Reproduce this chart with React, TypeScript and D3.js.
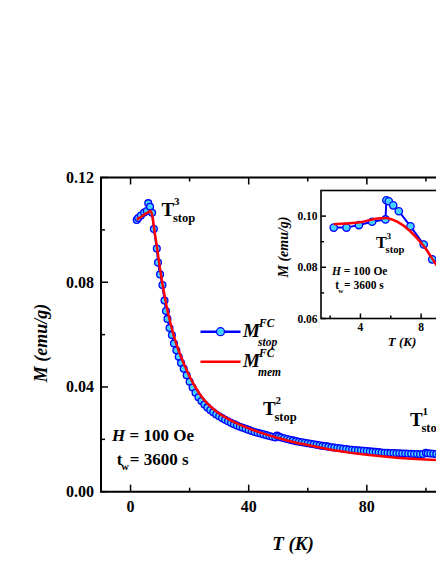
import React, { useEffect, useRef } from "react";
import * as d3 from "d3";

// main panel, stop-and-wait FC curve (blue circles)
const stopT = [2.1, 2.6, 3.5, 4.6, 5.5, 6.0, 6.6, 7.3, 7.9, 8.9, 9.3, 10.0, 10.8, 11.5, 12.0, 12.5, 13.2, 14.0, 14.7, 15.5, 16.3, 17.1, 18, 19, 20, 21, 22, 23, 24, 25, 26, 27, 28, 29, 30, 31, 32, 33, 34, 35, 36, 37, 38, 39, 40, 41, 42, 43, 44, 45, 46, 47, 48, 49, 49.6, 50.2, 51, 52, 53, 54, 55, 56, 57, 58, 59, 60, 61, 62, 63, 64, 65, 66, 67, 68, 69, 70, 71, 72, 73, 74, 75, 76, 77, 78, 79, 80, 81, 82, 83, 84, 85, 86, 87, 88, 89, 90, 91, 92, 93, 94, 95, 96, 97, 98, 99, 100, 100.6, 101.5, 102.5, 103.5, 104.5, 105.5, 106.5, 107.5, 108.5];
const stopM = [0.1038, 0.1045, 0.1055, 0.1066, 0.1072, 0.1102, 0.1088, 0.1065, 0.1003, 0.0929, 0.0875, 0.0830, 0.0789, 0.0730, 0.0690, 0.0660, 0.0625, 0.0598, 0.0566, 0.0540, 0.0515, 0.0492, 0.0470, 0.0445, 0.0420, 0.0398, 0.0378, 0.0361, 0.0346, 0.0333, 0.0322, 0.0312, 0.0303, 0.0295, 0.0288, 0.0281, 0.0275, 0.0269, 0.0263, 0.0258, 0.0253, 0.0248, 0.0244, 0.0240, 0.0236, 0.0232, 0.0228, 0.0225, 0.0222, 0.0219, 0.0216, 0.0213, 0.0210, 0.0207, 0.0214, 0.0211, 0.0207, 0.0204, 0.0201, 0.0198, 0.0196, 0.0193, 0.0191, 0.0189, 0.0187, 0.0185, 0.0183, 0.0181, 0.0179, 0.0177, 0.0175, 0.0174, 0.0172, 0.0170, 0.0169, 0.0167, 0.0166, 0.0164, 0.0163, 0.0161, 0.0160, 0.0159, 0.0158, 0.0157, 0.0156, 0.0155, 0.0154, 0.0153, 0.0152, 0.0151, 0.0150, 0.0149, 0.0149, 0.0148, 0.0148, 0.0147, 0.0147, 0.0146, 0.0146, 0.0145, 0.0145, 0.0144, 0.0144, 0.0143, 0.0144, 0.0149, 0.0147, 0.0146, 0.0145, 0.0144, 0.0144, 0.0143, 0.0143, 0.0142, 0.0142];

// main panel, memory curve (red line)
const memT = [2.1, 3, 4, 5, 6, 6.8, 7.4, 8, 9, 10, 11, 12, 13, 14, 15, 16, 18, 20, 22, 24, 26, 28, 30, 33, 36, 40, 45, 50, 55, 60, 65, 70, 75, 80, 85, 90, 95, 100, 105, 110];
const memM = [0.1040, 0.1046, 0.1053, 0.1061, 0.1068, 0.1072, 0.1052, 0.1005, 0.0930, 0.0850, 0.0782, 0.0720, 0.0668, 0.0622, 0.0582, 0.0548, 0.0490, 0.0440, 0.0398, 0.0364, 0.0337, 0.0316, 0.0299, 0.0278, 0.0261, 0.0242, 0.0222, 0.0205, 0.0190, 0.0178, 0.0167, 0.0156, 0.0148, 0.0141, 0.0135, 0.0130, 0.0126, 0.0123, 0.0120, 0.0118];

// inset, around the 6 K stop
const insetStopT = [2.24, 3.08, 3.9, 4.77, 5.65, 5.71, 5.87, 6.16, 6.53, 7.3, 8.17, 8.73, 9.5, 10.3];
const insetStopM = [0.0955, 0.0955, 0.0965, 0.0978, 0.0987, 0.1062, 0.1058, 0.1042, 0.1019, 0.0960, 0.0889, 0.0831, 0.0790, 0.0750];
const insetMemT = [2.24, 3.0, 4.0, 5.1, 5.65, 6.42, 7.3, 8.18, 9.0, 10.0, 11.0];
const insetMemM = [0.0968, 0.0971, 0.0976, 0.0991, 0.0993, 0.0978, 0.0940, 0.0882, 0.0810, 0.0730, 0.0660];

// tick values (labels only on the ones inside the window)
const mainXTicks = [0, 40, 80, 120];
const mainXLabels = [0, 40, 80];
const mainXMinor = [20, 60, 100];
const mainYTicks = [0, 0.04, 0.08, 0.12];
const mainYMinor = [0.02, 0.06, 0.10];
const insetXTicks = [4, 8, 12];
const insetXLabels = [4, 8];
const insetXMinor = [2, 6, 10];
const insetYTicks = [0.06, 0.08, 0.10];
const insetYMinor = [0.07, 0.09];

const FONT = '"Liberation Serif", "Times New Roman", serif';
const BLUE = "#0000ff";
const CYAN = "#46d2ff";
const RED = "#ff0000";

const App = () => {
    const ref = useRef<SVGSVGElement>(null);

    useEffect(() => {
        const svg = d3.select(ref.current);
        svg.selectAll("*").remove();
        svg.attr("font-family", FONT).attr("font-weight", "bold");

        // ---- main panel ----
        const x = d3.scaleLinear().domain([-10, 120]).range([101, 485]);
        const y = d3.scaleLinear().domain([0, 0.12]).range([491.7, 177.5]);
        const [x0, x1] = x.range();
        const [y0, y1] = y.range();

        const main = svg.append("g");

        const addTicks = (g, sx, sy, xt, yt, len, top) => {
            const bx = sy.range()[0], ty = sy.range()[1], lx = sx.range()[0];
            g.selectAll(null).data(xt).join("line")
                .attr("x1", d => sx(d)).attr("x2", d => sx(d))
                .attr("y1", bx).attr("y2", bx - len)
                .attr("stroke", "black").attr("stroke-width", 1.5);
            if (top) {
                g.selectAll(null).data(xt).join("line")
                    .attr("x1", d => sx(d)).attr("x2", d => sx(d))
                    .attr("y1", ty).attr("y2", ty + len)
                    .attr("stroke", "black").attr("stroke-width", 1.5);
            }
            g.selectAll(null).data(yt).join("line")
                .attr("x1", lx).attr("x2", lx + len)
                .attr("y1", d => sy(d)).attr("y2", d => sy(d))
                .attr("stroke", "black").attr("stroke-width", 1.5);
        };

        addTicks(main, x, y, mainXTicks, mainYTicks, 7, true);
        addTicks(main, x, y, mainXMinor, mainYMinor, 4, true);

        // frame (left, top, bottom)
        main.append("path")
            .attr("d", `M${x1},${y1}H${x0}V${y0}H${x1}`)
            .attr("fill", "none").attr("stroke", "black").attr("stroke-width", 2);

        main.selectAll(null).data(mainYTicks).join("text")
            .attr("x", 94).attr("y", d => y(d) + 5.5)
            .attr("text-anchor", "end").attr("font-size", 16)
            .text(d => d.toFixed(2));
        main.selectAll(null).data(mainXLabels).join("text")
            .attr("x", d => x(d)).attr("y", 512)
            .attr("text-anchor", "middle").attr("font-size", 16)
            .text(d => d);

        main.append("text")
            .attr("transform", "translate(47,343) rotate(-90)")
            .attr("text-anchor", "middle").attr("font-size", 18).attr("font-style", "italic")
            .text("M (emu/g)");
        main.append("text")
            .attr("x", 293).attr("y", 550)
            .attr("text-anchor", "middle").attr("font-size", 19).attr("font-style", "italic")
            .text("T (K)");

        const stopData = stopT.map((t, i) => [t, stopM[i]]);
        const memData = memT.map((t, i) => [t, memM[i]]);

        main.append("path").datum(stopData)
            .attr("d", d3.line().x(d => x(d[0])).y(d => y(d[1])))
            .attr("fill", "none").attr("stroke", BLUE).attr("stroke-width", 2);
        main.selectAll(null).data(stopData).join("circle")
            .attr("cx", d => x(d[0])).attr("cy", d => y(d[1])).attr("r", 3.4)
            .attr("fill", CYAN).attr("stroke", BLUE).attr("stroke-width", 1.3);
        main.append("path").datum(memData)
            .attr("d", d3.line().curve(d3.curveMonotoneX).x(d => x(d[0])).y(d => y(d[1])))
            .attr("fill", "none").attr("stroke", RED).attr("stroke-width", 2.5);

        // T_stop labels
        const stopLabel = (g, lx, ly, sup, size) => {
            g.append("text").attr("x", lx).attr("y", ly).attr("font-size", size).text("T");
            g.append("text").attr("x", lx + size * 0.66).attr("y", ly - size * 0.58)
                .attr("font-size", size * 0.58).text(sup);
            g.append("text").attr("x", lx + size * 0.6).attr("y", ly + size * 0.34)
                .attr("font-size", size * 0.66).text("stop");
        };
        stopLabel(main, 161.5, 216, "3", 19);
        stopLabel(main, 263, 415, "2", 19);
        stopLabel(main, 410, 426, "1", 19);

        const hLabel = (g, lx, ly, size, gap) => {
            const h = g.append("text").attr("x", lx).attr("y", ly).attr("font-size", size);
            h.append("tspan").attr("font-style", "italic").text("H");
            h.append("tspan").text(" = 100 Oe");
            g.append("text").attr("x", lx + size * 0.28).attr("y", ly + gap).attr("font-size", size).text("t");
            g.append("text").attr("x", lx + size * 0.55).attr("y", ly + gap + size * 0.32)
                .attr("font-size", size * 0.62).text("w");
            g.append("text").attr("x", lx + size * 1.05).attr("y", ly + gap).attr("font-size", size).text("= 3600 s");
        };
        hLabel(main, 112, 441, 17, 24);

        // legend
        const legend = main.append("g").attr("font-style", "italic");
        legend.append("line").attr("x1", 200.5).attr("x2", 240.5).attr("y1", 331.7).attr("y2", 331.7)
            .attr("stroke", BLUE).attr("stroke-width", 2.5);
        legend.append("circle").attr("cx", 220.5).attr("cy", 331.7).attr("r", 4)
            .attr("fill", CYAN).attr("stroke", BLUE).attr("stroke-width", 1.3);
        legend.append("line").attr("x1", 200.5).attr("x2", 240.5).attr("y1", 361.7).attr("y2", 361.7)
            .attr("stroke", RED).attr("stroke-width", 2.5);
        const legendText = (ly, sub) => {
            legend.append("text").attr("x", 243).attr("y", ly).attr("font-size", 19).text("M");
            legend.append("text").attr("x", 259).attr("y", ly - 10).attr("font-size", 11.5).text("FC");
            legend.append("text").attr("x", 258).attr("y", ly + 8.5).attr("font-size", 11.5).text(sub);
        };
        legendText(337, "stop");
        legendText(367, "mem");

        // ---- inset ----
        const ix = d3.scaleLinear().domain([1.4, 12]).range([321, 481.8]);
        const iy = d3.scaleLinear().domain([0.06, 0.11]).range([318.5, 190.5]);
        const inset = svg.append("g");
        const [ix0, ix1] = ix.range();
        const [iy0, iy1] = iy.range();

        inset.append("rect").attr("x", ix0).attr("y", iy1).attr("width", ix1 - ix0).attr("height", iy0 - iy1)
            .attr("fill", "white");
        addTicks(inset, ix, iy, insetXTicks, insetYTicks, 5, false);
        addTicks(inset, ix, iy, insetXMinor, insetYMinor, 3, false);
        inset.append("rect").attr("x", ix0).attr("y", iy1).attr("width", ix1 - ix0).attr("height", iy0 - iy1)
            .attr("fill", "none").attr("stroke", "black").attr("stroke-width", 1.6);

        inset.selectAll(null).data(insetYTicks).join("text")
            .attr("x", 317.5).attr("y", d => iy(d) + 4)
            .attr("text-anchor", "end").attr("font-size", 11.5)
            .text(d => d.toFixed(2));
        inset.selectAll(null).data(insetXLabels).join("text")
            .attr("x", d => ix(d)).attr("y", 331)
            .attr("text-anchor", "middle").attr("font-size", 11.5)
            .text(d => d);
        inset.append("text")
            .attr("transform", "translate(288,247) rotate(-90)")
            .attr("text-anchor", "middle").attr("font-size", 14).attr("font-style", "italic")
            .text("M (emu/g)");
        inset.append("text")
            .attr("x", 402).attr("y", 346)
            .attr("text-anchor", "middle").attr("font-size", 13).attr("font-style", "italic")
            .text("T (K)");

        const iStop = insetStopT.map((t, i) => [t, insetStopM[i]]);
        const iMem = insetMemT.map((t, i) => [t, insetMemM[i]]);
        const marks = inset.append("g");
        marks.append("path").datum(iStop)
            .attr("d", d3.line().x(d => ix(d[0])).y(d => iy(d[1])))
            .attr("fill", "none").attr("stroke", BLUE).attr("stroke-width", 2);
        marks.selectAll(null).data(iStop).join("circle")
            .attr("cx", d => ix(d[0])).attr("cy", d => iy(d[1])).attr("r", 3.7)
            .attr("fill", CYAN).attr("stroke", BLUE).attr("stroke-width", 1.3);
        marks.append("path").datum(iMem)
            .attr("d", d3.line().curve(d3.curveMonotoneX).x(d => ix(d[0])).y(d => iy(d[1])))
            .attr("fill", "none").attr("stroke", RED).attr("stroke-width", 2.5);

        stopLabel(inset, 376, 248, "3", 16);
        hLabel(inset, 332, 275, 11.5, 14);
    }, []);

    return (
        <svg ref={ref} width={436} height={564}
            style={{ position: "absolute", left: 0, top: 0, background: "white" }} />
    );
};

export default App;
